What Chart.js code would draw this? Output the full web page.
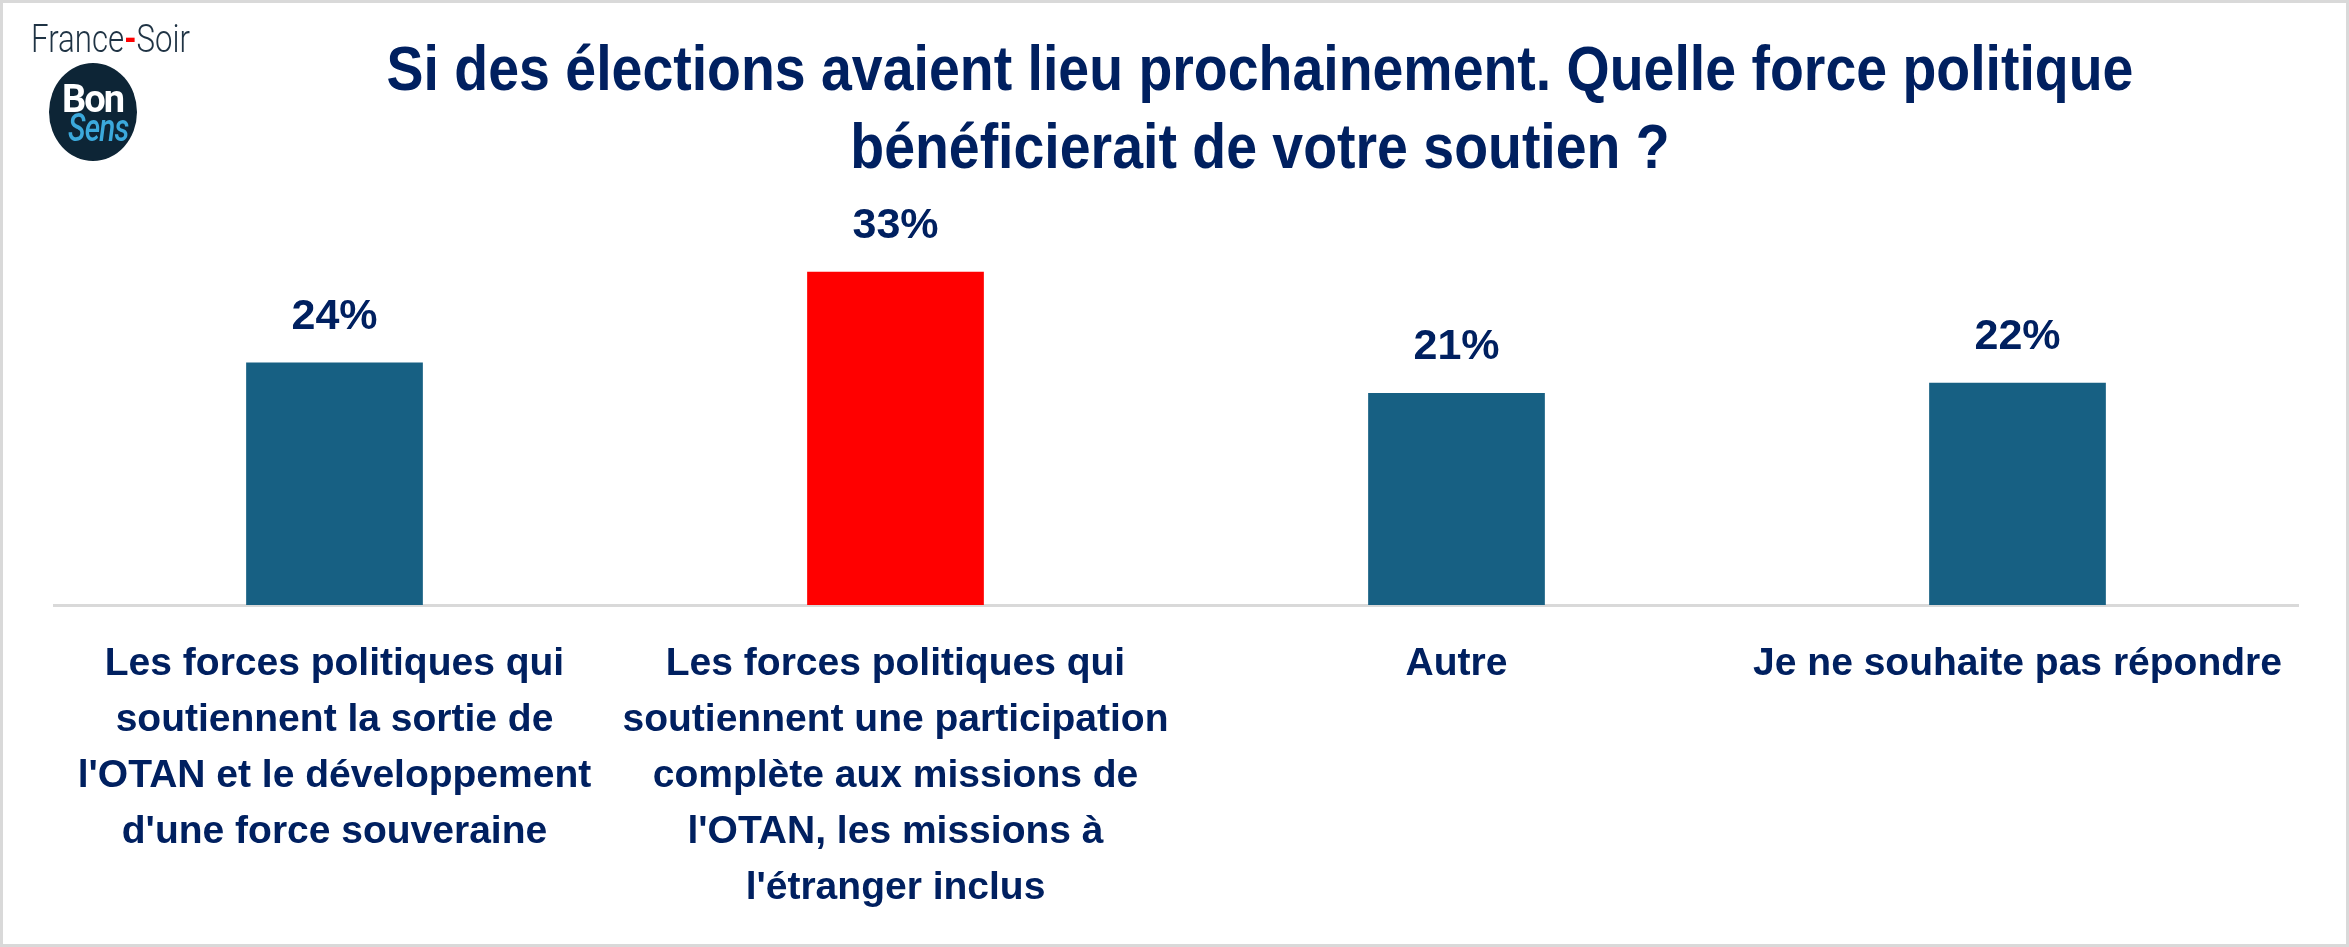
<!DOCTYPE html>
<html lang="fr">
<head>
<meta charset="utf-8">
<title>Si des élections avaient lieu prochainement</title>
<script src="https://cdn.jsdelivr.net/npm/chart.js@4.4.1/dist/chart.umd.min.js"></script>
<style>
  html, body { margin: 0; padding: 0; background: #ffffff; }
  #wrap { position: relative; width: 2349px; height: 947px; overflow: hidden; }
  #frame { position: absolute; inset: 0; border: 3px solid #d9d9d9; box-sizing: border-box; pointer-events: none; }
  #brand { position: absolute; left: 31px; top: 20px; font-family: Roboto, sans-serif; font-weight: 300; font-size: 39px; line-height: 39px; color: #1f3344; transform: scaleX(0.8); transform-origin: left top; white-space: nowrap; }
  #brand span { color: #ff0000; font-weight: 700; }
  #badge { position: absolute; left: 49px; top: 63px; width: 88px; height: 98px; border-radius: 50%; background: #0d2536; }
  #badge .bon { position: absolute; left: 13px; top: 17px; font-family: Roboto, sans-serif; font-weight: 700; font-size: 38px; line-height: 38px; color: #ffffff; letter-spacing: -2px; }
  #badge .sens { position: absolute; left: 19px; top: 46px; font-family: Roboto, sans-serif; font-style: italic; font-weight: 500; font-size: 38px; line-height: 38px; color: #3ba9dc; letter-spacing: -1px; transform: scaleX(0.78); transform-origin: left top; }
</style>
</head>
<body>
<div id="wrap">
  <canvas id="pollChart"></canvas>
  <div id="brand">France<span>-</span>Soir</div>
  <div id="badge"><div class="bon">Bon</div><div class="sens">Sens</div></div>
  <div id="frame"></div>
</div>
<script>
document.addEventListener('DOMContentLoaded', function () {
    const ctx = document.getElementById('pollChart').getContext('2d');

    const categories = [
        ["Les forces politiques qui", "soutiennent la sortie de", "l'OTAN et le développement", "d'une force souveraine"],
        ["Les forces politiques qui", "soutiennent une participation", "complète aux missions de", "l'OTAN, les missions à", "l'étranger inclus"],
        "Autre",
        "Je ne souhaite pas répondre"
    ];
    const shares = [24, 33, 21, 22];
    const barColors = ['#176083', '#ff0000', '#176083', '#176083'];
    const titleLines = [
        "Si des élections avaient lieu prochainement. Quelle force politique",
        "bénéficierait de votre soutien ?"
    ];

    const navy = '#002060';
    const sans = "'Liberation Sans', Arial, sans-serif";

    // two-line title, slightly condensed like the original
    const narrowTitle = {
        id: 'narrowTitle',
        afterDraw(chart) {
            const c = chart.ctx;
            c.save();
            c.fillStyle = navy;
            c.font = 'bold 63px ' + sans;
            c.textAlign = 'center';
            c.textBaseline = 'alphabetic';
            titleLines.forEach(function (line, i) {
                c.save();
                c.translate(1260, 90 + i * 78);
                c.scale(0.88, 1);
                c.fillText(line, 0, 0);
                c.restore();
            });
            c.restore();
        }
    };

    // percentage labels above bars
    const valueLabels = {
        id: 'valueLabels',
        afterDatasetsDraw(chart) {
            const c = chart.ctx;
            const meta = chart.getDatasetMeta(0);
            c.save();
            c.fillStyle = navy;
            c.font = 'bold 43px ' + sans;
            c.textAlign = 'center';
            c.textBaseline = 'alphabetic';
            meta.data.forEach(function (bar, i) {
                c.fillText(shares[i] + '%', bar.x, bar.y - 34);
            });
            c.restore();
        }
    };

    new Chart(ctx, {
        type: 'bar',
        data: {
            labels: categories,
            datasets: [{
                data: shares,
                backgroundColor: barColors,
                borderWidth: 0,
                categoryPercentage: 1,
                barPercentage: 0.315
            }]
        },
        options: {
            responsive: true,
            maintainAspectRatio: false,
            animation: false,
            layout: {
                padding: { left: 54, right: 51, top: 201, bottom: 0 }
            },
            plugins: {
                legend: { display: false },
                tooltip: { enabled: false },
                title: { display: false }
            },
            scales: {
                x: {
                    grid: { display: false, drawTicks: false },
                    border: { display: true, color: '#d9d9d9', width: 3 },
                    ticks: {
                        color: navy,
                        font: { family: sans, size: 39, weight: 'bold', lineHeight: 56 / 39 },
                        padding: 31,
                        maxRotation: 0,
                        autoSkip: false
                    },
                    afterFit: function (scale) { scale.height = 342; }
                },
                y: {
                    display: false,
                    min: 0,
                    max: 40
                }
            }
        },
        plugins: [valueLabels, narrowTitle]
    });
});
</script>
</body>
</html>
